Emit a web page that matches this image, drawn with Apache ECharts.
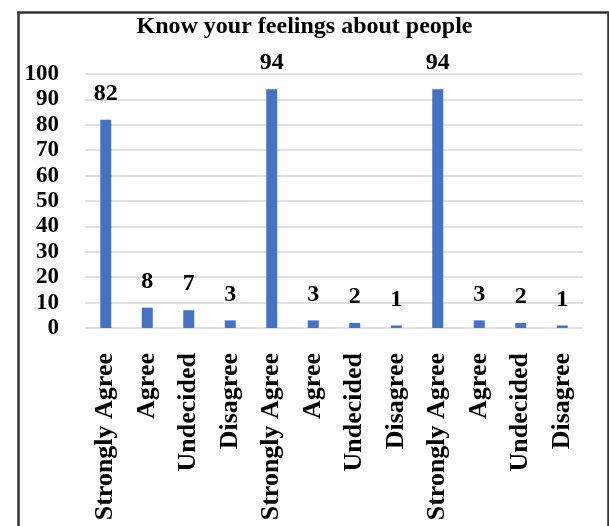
<!DOCTYPE html>
<html>
<head>
<meta charset="utf-8">
<script src="https://cdn.jsdelivr.net/npm/echarts@6/dist/echarts.min.js"></script>
<style>
html,body{margin:0;padding:0;background:#fff;}
#chart{width:609px;height:526px;}
</style>
</head>
<body>
<div id="chart"></div>
<script>
const titleText = "Know your feelings about people";
const categories = ["Strongly Agree","Agree","Undecided","Disagree","Strongly Agree","Agree","Undecided","Disagree","Strongly Agree","Agree","Undecided","Disagree"];
const values = [82, 8, 7, 3, 94, 3, 2, 1, 94, 3, 2, 1];
const yTicks = [0,10,20,30,40,50,60,70,80,90,100];

const serif = '"Liberation Serif", "Times New Roman", serif';
const chart = echarts.init(document.getElementById('chart'), null, {renderer:'canvas'});
chart.setOption({
  backgroundColor: '#ffffff',
  animation: false,
  title: {
    text: titleText, left: 'center', top: 10,
    textStyle: {fontFamily: serif, fontWeight: 'bold', fontSize: 24, color: '#000'}
  },
  graphic: [{
    type: 'rect', left: 16, top: 10, silent: true,
    shape: {x: 0, y: 0, width: 590, height: 530},
    style: {fill: 'none', stroke: '#333333', lineWidth: 2.5}
  }],
  grid: {left: 85, right: 26, top: 74, bottom: 198, containLabel: false},
  xAxis: {
    type: 'category', data: categories,
    axisLine: {show: false}, axisTick: {show: false},
    axisLabel: {rotate: 90, margin: 25, interval: 0, fontFamily: serif, fontWeight: 'bold', fontSize: 26, color: '#000'}
  },
  yAxis: {
    type: 'value', min: yTicks[0], max: yTicks[yTicks.length-1], interval: 10,
    axisLine: {show: false}, axisTick: {show: false},
    axisLabel: {margin: 26, fontFamily: serif, fontWeight: 'bold', fontSize: 23, color: '#000'},
    splitLine: {lineStyle: {color: '#d9d9d9', width: 1.5}}
  },
  series: [{
    type: 'bar', data: values, barWidth: 11,
    itemStyle: {color: '#4472C4'},
    label: {show: true, position: 'top', distance: 14, fontFamily: serif, fontWeight: 'bold', fontSize: 24, color: '#000'}
  }]
});
</script>
</body>
</html>
